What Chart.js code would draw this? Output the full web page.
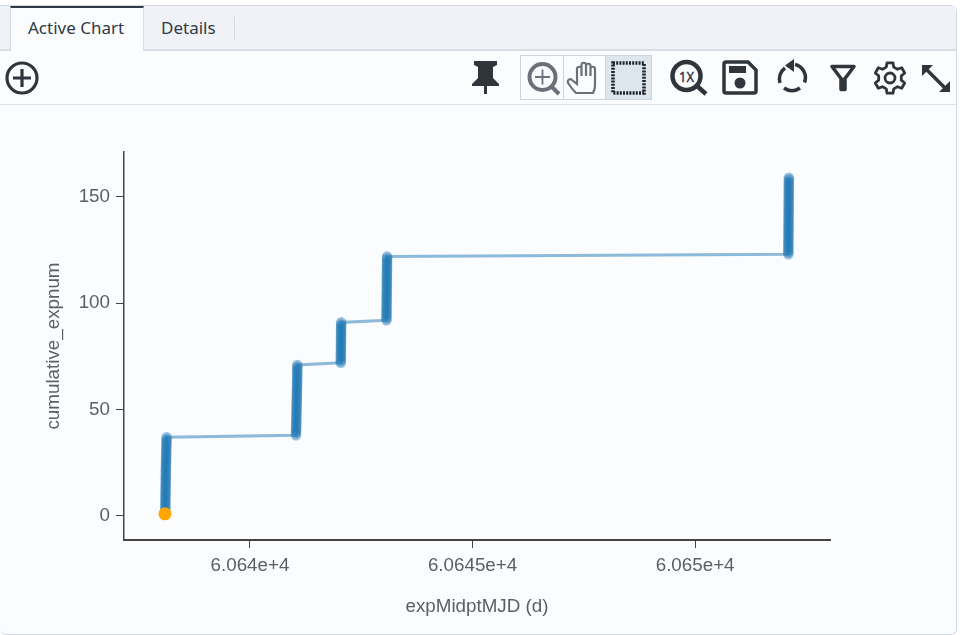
<!DOCTYPE html>
<html>
<head>
<meta charset="utf-8">
<title>Active Chart</title>
<script src="https://cdn.jsdelivr.net/npm/chart.js@4"></script>
<style>
  html, body { margin: 0; padding: 0; background: #fff; overflow: hidden; }
  #panel { position: absolute; left: 0; top: 5px; width: 956px; height: 628px; background: #fbfcfe;
           border: 1px solid #d5dae2; border-left: none; border-radius: 0 6px 6px 6px; box-sizing: content-box; }
  #tabbar { position: absolute; left: 0; top: 0; width: 100%; height: 43px; background: #f0f2f7; border-bottom: 2px solid #d9dde4; }
  .tab { position: absolute; font: 17px "Noto Sans", sans-serif; color: #2f3a45; line-height: 20px; }
  #tab-active { left: 10px; top: 0; width: 132px; height: 43px; background: #fbfcfe; border-top: 2px solid #2f3a45;
                border-left: 1px solid #d9dde4; border-right: 1px solid #d9dde4; box-sizing: content-box; }
  #tab-active span { position: absolute; left: 17px; top: 10px; }
  #tab-details { left: 161px; top: 12px; }
  #tab-sep { position: absolute; left: 234px; top: 11px; width: 1px; height: 24px; background: #d5dae2; }
  #toolrule { position: absolute; left: 0; top: 98px; width: 100%; height: 1px; background: #dfe3e8; }
  #icons { position: absolute; left: 0; top: 0; }
  #chartbox { position: absolute; left: 0; top: 105px; width: 956px; height: 528px; }
</style>
</head>
<body>
<div id="panel">
  <div id="tabbar">
    <div class="tab" id="tab-active"><span>Active Chart</span></div>
    <div class="tab" id="tab-details">Details</div>
    <div id="tab-sep"></div>
  </div>
  <div id="toolrule"></div>
</div>

<svg id="icons" width="963" height="105" viewBox="0 0 963 105">
  <!-- add -->
  <circle cx="22" cy="78" r="15" fill="none" stroke="#2f353b" stroke-width="3.2"/>
  <path d="M13 78h18M22 69v18" stroke="#2f353b" stroke-width="3.2"/>
  <!-- pin -->
  <path d="M474 61h23v4l-4 2v11l6 6v2h-12v8h-3v-8h-12v-2l6-6v-11l-4-2z" fill="#2f353b"/>
  <!-- drag mode group -->
  <rect x="520.5" y="55.5" width="131" height="44" fill="none" stroke="#c9d4dd"/>
  <rect x="605" y="56" width="46" height="43" fill="#dde6ec"/>
  <path d="M563.5 56v43M605.5 56v43" stroke="#c9d4dd"/>
  <circle cx="542.5" cy="77" r="13" fill="none" stroke="#6b7178" stroke-width="4"/>
  <path d="M535 77h15M542.5 69.5v15" stroke="#6b7178" stroke-width="1.8"/>
  <path d="M552 87l7 7" stroke="#6b7178" stroke-width="4"/>
  <path d="M576 93c-3-3-6-7-8-10-1-3 2-5 4-3l5 4V69c0-3 4.500-3 4.500 0v7-11c0-3 4.500-3 4.500 0v11-10c0-3 4.500-3 4.500 0v10-7c0-3 4.500-3 4.500 0v17c0 3-1 5-2 7z" fill="none" stroke="#6b7178" stroke-width="2.2"/>
  <rect x="613" y="63" width="31" height="30" fill="none" stroke="#1f2328" stroke-width="3.6" stroke-dasharray="2 1.2"/>
  <!-- 1x -->
  <circle cx="686.5" cy="76" r="14" fill="none" stroke="#2f353b" stroke-width="4.5"/>
  <text x="686.5" y="82" text-anchor="middle" font-family="Noto Sans" font-size="15" textLength="15" lengthAdjust="spacingAndGlyphs" fill="#2f353b" stroke="#2f353b" stroke-width="0.4">1X</text>
  <path d="M697 86l9 8" stroke="#2f353b" stroke-width="4.5"/>
  <!-- save -->
  <path d="M726 62h22l8 8v21a2 2 0 0 1-2 2h-28a2 2 0 0 1-2-2v-27a2 2 0 0 1 2-2z" fill="none" stroke="#2f353b" stroke-width="3.5"/>
  <rect x="729" y="66" width="17" height="7" fill="#2f353b"/>
  <circle cx="740" cy="83" r="5.5" fill="#2f353b"/>
  <!-- reset -->
  <path d="M795 64.5a13.5 13.5 0 0 1 9.500 18M800 88a13.5 13.5 0 0 1-16 0M780 83a13.5 13.5 0 0 1 5-15" fill="none" stroke="#2f353b" stroke-width="3.5"/>
  <path d="M794 59v13l-9-6.500z" fill="#2f353b"/>
  <!-- filter -->
  <path d="M832 66.500h22l-9 12v11h-4v-11z" fill="none" stroke="#2f353b" stroke-width="3.500" stroke-linejoin="round"/>
  <path d="M841 78h4v12h-4z" fill="#2f353b"/>
  <!-- gear -->
  <circle cx="890" cy="78" r="5" fill="none" stroke="#2f353b" stroke-width="2.8"/>
  <path id="gear" fill="none" stroke="#2f353b" stroke-width="2.8" stroke-linejoin="round"/>
  <!-- expand -->
  <path d="M925 68l22 22" stroke="#2f353b" stroke-width="3.5"/>
  <path d="M922 65h11l-11 11zM950 92h-11l11-11z" fill="#2f353b"/>
</svg>

<div id="chartbox"><canvas id="expChart"></canvas></div>

<script>
// exposure midpoints, one per cumulative exposure
const midpointMjd = [
  60638.097, 60638.098, 60638.098, 60638.099, 60638.100, 60638.100, 60638.101, 60638.102, 60638.102, 60638.103,
  60638.104, 60638.104, 60638.105, 60638.106, 60638.106, 60638.107, 60638.108, 60638.108, 60638.109, 60638.110,
  60638.110, 60638.111, 60638.112, 60638.113, 60638.114, 60638.115, 60638.116, 60638.117, 60638.118, 60638.119,
  60638.120, 60638.121, 60638.122, 60638.124, 60638.125, 60638.127, 60638.128,
  60641.034, 60641.035, 60641.036, 60641.037, 60641.038, 60641.039, 60641.040, 60641.041, 60641.042, 60641.043,
  60641.044, 60641.045, 60641.046, 60641.047, 60641.048, 60641.049, 60641.050, 60641.051, 60641.052, 60641.053,
  60641.054, 60641.055, 60641.056, 60641.057, 60641.058, 60641.059, 60641.060, 60641.061, 60641.061, 60641.062,
  60641.062, 60641.063, 60641.063, 60641.064,
  60642.040, 60642.040, 60642.041, 60642.041, 60642.042, 60642.042, 60642.043, 60642.043, 60642.044, 60642.044,
  60642.045, 60642.045, 60642.045, 60642.046, 60642.046, 60642.047, 60642.047, 60642.048, 60642.048, 60642.049,
  60643.066, 60643.066, 60643.067, 60643.067, 60643.068, 60643.068, 60643.069, 60643.069, 60643.070, 60643.070,
  60643.071, 60643.071, 60643.072, 60643.072, 60643.073, 60643.073, 60643.074, 60643.074, 60643.075, 60643.075,
  60643.076, 60643.076, 60643.077, 60643.077, 60643.078, 60643.078, 60643.079, 60643.079, 60643.080, 60643.080, 60643.081,
  60652.094, 60652.094, 60652.095, 60652.095, 60652.095, 60652.096, 60652.096, 60652.096, 60652.097, 60652.097,
  60652.097, 60652.098, 60652.098, 60652.098, 60652.099, 60652.099, 60652.099, 60652.100, 60652.100, 60652.100,
  60652.101, 60652.101, 60652.101, 60652.102, 60652.102, 60652.102, 60652.103, 60652.103, 60652.103, 60652.104,
  60652.104, 60652.104, 60652.105, 60652.105, 60652.105, 60652.106, 60652.106
];
const cumulativeExpnum = [
  1, 2, 3, 4, 5, 6, 7, 8, 9, 10, 11, 12, 13, 14, 15, 16, 17, 18, 19, 20,
  21, 22, 23, 24, 25, 26, 27, 28, 29, 30, 31, 32, 33, 34, 35, 36, 37,
  38, 39, 40, 41, 42, 43, 44, 45, 46, 47, 48, 49, 50, 51, 52, 53, 54, 55, 56, 57,
  58, 59, 60, 61, 62, 63, 64, 65, 66, 67, 68, 69, 70, 71,
  72, 73, 74, 75, 76, 77, 78, 79, 80, 81, 82, 83, 84, 85, 86, 87, 88, 89, 90, 91,
  92, 93, 94, 95, 96, 97, 98, 99, 100, 101, 102, 103, 104, 105, 106, 107, 108, 109, 110,
  111, 112, 113, 114, 115, 116, 117, 118, 119, 120, 121, 122,
  123, 124, 125, 126, 127, 128, 129, 130, 131, 132, 133, 134, 135, 136, 137, 138, 139, 140,
  141, 142, 143, 144, 145, 146, 147, 148, 149, 150, 151, 152, 153, 154, 155, 156, 157, 158, 159
];
// highlighted point
const selectedX = [60638.09];
const selectedY = [1];

const xTickValues = [60640, 60645, 60650];
const xTickLabels = ['6.064e+4', '6.0645e+4', '6.065e+4'];
const yTickValues = [0, 50, 100, 150];

const axisColor = '#444';
const labelColor = '#5a5f66';
const labelFont = { family: '"Liberation Sans", Arial, sans-serif', size: 18.8 };

// toolbar cog outline
let gearPath = '';
for (let i = 0; i < 6; i++) {
    const a = (-90 + i * 60) * Math.PI / 180;
    const pts = [[11.5, -19], [15.5, -11], [15.5, 11], [11.5, 19]];
    pts.forEach(([r, d], j) => {
        const t = a + d * Math.PI / 180;
        gearPath += (i === 0 && j === 0 ? 'M' : 'L') + (890 + r * Math.cos(t)).toFixed(1) + ' ' + (78 + r * Math.sin(t)).toFixed(1);
    });
}
document.getElementById('gear').setAttribute('d', gearPath + 'Z');

new Chart(document.getElementById('expChart'), {
    type: 'scatter',
    data: {
        datasets: [
            {
                data: selectedX.map((x, i) => ({ x: x, y: selectedY[i] })),
                pointRadius: 6.5,
                pointBackgroundColor: '#ffa500',
                pointBorderWidth: 0,
                order: 0
            },
            {
                data: midpointMjd.map((x, i) => ({ x: x, y: cumulativeExpnum[i] })),
                showLine: true,
                borderColor: 'rgba(31,119,180,0.5)',
                borderWidth: 3,
                pointRadius: 5.3,
                pointBackgroundColor: 'rgba(31,119,180,0.45)',
                pointBorderWidth: 0,
                order: 1
            }
        ]
    },
    options: {
        responsive: true,
        maintainAspectRatio: false,
        animation: false,
        layout: { padding: { left: 43, right: 126, top: 47, bottom: 15 } },
        plugins: { legend: { display: false }, tooltip: { enabled: false } },
        scales: {
            x: {
                type: 'linear',
                min: 60637.17,
                max: 60653.03,
                afterBuildTicks: s => { s.ticks = xTickValues.map(v => ({ value: v })); },
                afterFit: s => { s.height = 78; },
                border: { color: axisColor, width: 2 },
                grid: { display: true, drawOnChartArea: false, drawTicks: true, tickLength: 8, tickColor: axisColor },
                ticks: {
                    color: labelColor,
                    font: labelFont,
                    maxRotation: 0,
                    autoSkip: false,
                    padding: 7,
                    callback: v => xTickLabels[xTickValues.indexOf(v)]
                },
                title: { display: true, text: 'expMidptMJD (d)', color: labelColor, font: labelFont, padding: { top: 18, bottom: 0 } }
            },
            y: {
                min: -11.3,
                max: 171.1,
                afterBuildTicks: s => { s.ticks = yTickValues.map(v => ({ value: v })); },
                afterFit: s => { s.width = 81; },
                border: { color: axisColor, width: 1.5 },
                grid: { display: true, drawOnChartArea: false, drawTicks: true, tickLength: 8, tickColor: axisColor },
                ticks: { color: labelColor, font: labelFont, padding: 6, autoSkip: false },
                title: { display: true, text: 'cumulative_expnum', color: labelColor, font: labelFont, padding: { top: 0, bottom: 0 } }
            }
        }
    }
});
</script>
</body>
</html>
